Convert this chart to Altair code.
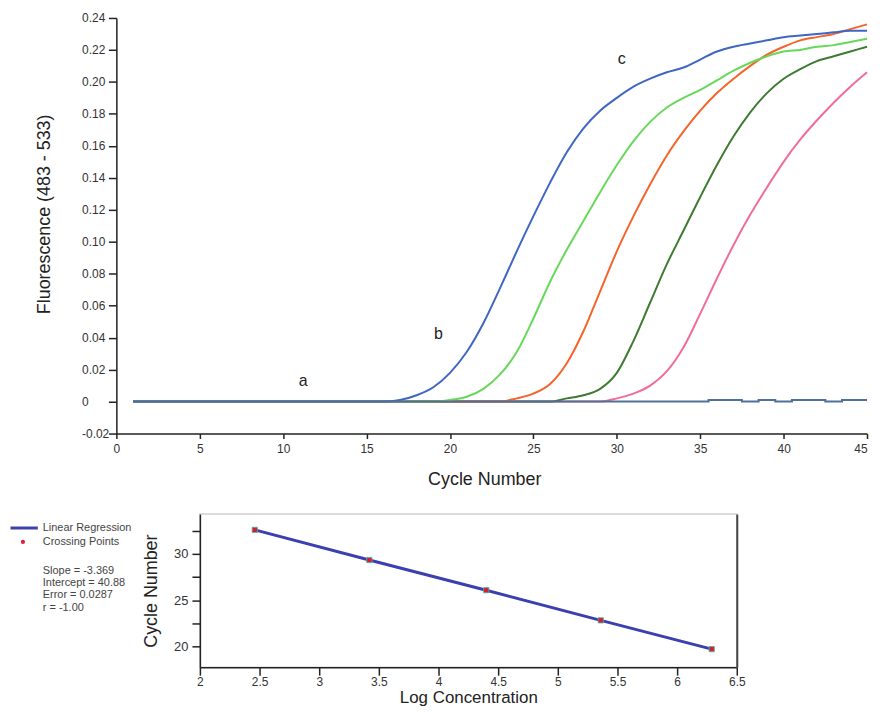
import altair as alt
import pandas as pd

# ---------------- data ----------------
cycles = list(range(1, 46))

blue = [0.0] * 16 + [0.001, 0.004, 0.009, 0.018, 0.031, 0.049, 0.071, 0.094, 0.116,
                     0.137, 0.156, 0.171, 0.182, 0.190, 0.197, 0.202, 0.206, 0.209,
                     0.214, 0.219, 0.222, 0.224, 0.226, 0.228, 0.229, 0.230, 0.231,
                     0.232, 0.232]
green = [0.0] * 19 + [0.001, 0.003, 0.008, 0.017, 0.031, 0.052, 0.075, 0.095, 0.113,
                      0.131, 0.148, 0.163, 0.175, 0.184, 0.190, 0.195, 0.201, 0.207,
                      0.212, 0.216, 0.219, 0.220, 0.222, 0.223, 0.225, 0.227]
orange = [0.0] * 23 + [0.002, 0.005, 0.011, 0.024, 0.044, 0.069, 0.094, 0.116, 0.136,
                       0.154, 0.169, 0.182, 0.193, 0.202, 0.210, 0.217, 0.222, 0.226,
                       0.228, 0.230, 0.233, 0.236]
dkgreen = [0.0] * 26 + [0.002, 0.004, 0.008, 0.018, 0.038, 0.062, 0.086, 0.107, 0.128,
                        0.148, 0.166, 0.181, 0.193, 0.202, 0.208, 0.213, 0.216, 0.219,
                        0.222]
pink = [0.0] * 29 + [0.002, 0.005, 0.010, 0.019, 0.034, 0.055, 0.077, 0.098, 0.117,
                     0.134, 0.150, 0.164, 0.176, 0.187, 0.197, 0.206]
negctrl = [0.0] * 35 + [0.001, 0.001, 0.0, 0.001, 0.0, 0.001, 0.001, 0.0, 0.001, 0.001]

series_names = ["pink", "dkgreen", "orange", "green", "blue"]
series_values = [pink, dkgreen, orange, green, blue]
series_colors = ["#f06e96", "#3e7a32", "#f5642a", "#66d95a", "#4066c4"]
neg_color = "#50709a"

ann_letters = ["a", "b", "c"]
ann_cycle = [11.2, 19.3, 30.3]
ann_value = [0.013, 0.042, 0.214]

log_conc = [2.46, 3.42, 4.40, 5.36, 6.29]
crossing = [32.6, 29.35, 26.1, 22.85, 19.75]

y_ticks_top = [-0.02, 0.0, 0.02, 0.04, 0.06, 0.08, 0.10, 0.12, 0.14, 0.16, 0.18, 0.20, 0.22, 0.24]
x_ticks_top = [0, 5, 10, 15, 20, 25, 30, 35, 40, 45]
x_ticks_reg = [2, 2.5, 3, 3.5, 4, 4.5, 5, 5.5, 6, 6.5]
y_ticks_reg = [20, 22.5, 25, 27.5, 30, 32.5]

legend_texts = ["Linear Regression", "Crossing Points"]
stats_texts = ["Slope = -3.369", "Intercept = 40.88", "Error = 0.0287", "r = -1.00"]

# ---------------- tables ----------------
rows = []
for name, vals in zip(series_names, series_values):
    for c, v in zip(cycles, vals):
        rows.append({"series": name, "cycle": c, "value": v})
df_curves = pd.DataFrame(rows)
df_neg = pd.DataFrame({"cycle": cycles, "value": negctrl})
df_ann = pd.DataFrame({"t": ann_letters, "cycle": ann_cycle, "value": ann_value})
df_reg = pd.DataFrame({"logc": log_conc, "cp": crossing})
one = pd.DataFrame({"k": [0]})

FONT = "Liberation Sans, Arial, sans-serif"
DARK = "#222222"

# ---------------- top chart ----------------
xs_top = alt.Scale(domain=[0, 45], nice=False, zero=False)
ys_top = alt.Scale(domain=[-0.02, 0.24], nice=False, zero=False)

x_axis_top = alt.Axis(values=x_ticks_top, title="Cycle Number", labelFlush=False,
                      labelAlign={"expr": "datum.value == 45 ? 'right' : 'center'"},
                      tickSize=5, labelPadding=5, titleX=370, titleY=51,
                      titleBaseline="alphabetic", titleFontSize=18, labelOverlap=False)
y_axis_top = alt.Axis(values=y_ticks_top,
                      labelExpr="datum.value == 0 ? '0' : (datum.value < 0 ? '-' + format(-datum.value, '.2f') : format(datum.value, '.2f'))",
                      labelAlign="left", labelPadding=27, tickSize=8, labelOverlap=False,
                      title="Fluorescence (483 - 533)", titleX=-67, titleY=197,
                      titleBaseline="alphabetic", titleFontSize=18)

curves = alt.Chart(df_curves).mark_line(strokeWidth=2, interpolate="monotone").encode(
    x=alt.X("cycle:Q", scale=xs_top, axis=x_axis_top),
    y=alt.Y("value:Q", scale=ys_top, axis=y_axis_top),
    color=alt.Color("series:N", scale=alt.Scale(domain=series_names, range=series_colors), legend=None),
)
neg = alt.Chart(df_neg).mark_line(strokeWidth=2, color=neg_color, interpolate="step").encode(
    x=alt.X("cycle:Q", scale=xs_top, axis=x_axis_top),
    y=alt.Y("value:Q", scale=ys_top, axis=y_axis_top),
)
ann = alt.Chart(df_ann).mark_text(font=FONT, fontSize=16, color=DARK).encode(
    x=alt.X("cycle:Q", scale=xs_top, axis=x_axis_top),
    y=alt.Y("value:Q", scale=ys_top, axis=y_axis_top),
    text="t:N",
)
top = alt.layer(curves, neg, ann).properties(
    width=755, height=418, view=alt.ViewBackground(stroke="transparent")
)

# ---------------- legend / stats ----------------
leg_parts = [
    alt.Chart(one).mark_rule(color="#3b3fb0", strokeWidth=3).encode(
        x=alt.value(-106.5), x2=alt.value(-79), y=alt.value(14)),
    alt.Chart(one).mark_point(filled=True, shape="circle", size=18, color="#e02030", opacity=1).encode(
        x=alt.value(-94), y=alt.value(28)),
]
for i, t in enumerate(legend_texts):
    leg_parts.append(alt.Chart(one).mark_text(font=FONT, fontSize=11, color="#444", align="left",
                                              baseline="middle").encode(
        x=alt.value(-74), y=alt.value(14 + 14 * i), text=alt.value(t)))
for i, t in enumerate(stats_texts):
    leg_parts.append(alt.Chart(one).mark_text(font=FONT, fontSize=11, color="#444", align="left",
                                              baseline="middle").encode(
        x=alt.value(-74), y=alt.value(57 + 12.4 * i), text=alt.value(t)))
legend = alt.layer(*leg_parts).properties(
    width=20, height=100, view=alt.ViewBackground(stroke="transparent")
)

# ---------------- regression chart ----------------
xs_reg = alt.Scale(domain=[2, 6.5], nice=False, zero=False)
ys_reg = alt.Scale(domain=[17.8, 34.3], nice=False, zero=False)

reg_line = alt.Chart(df_reg).mark_line(color="#3b3fb0", strokeWidth=3).encode(
    x=alt.X("logc:Q", scale=xs_reg,
            axis=alt.Axis(values=x_ticks_reg, labelFlush=False,
                          labelExpr="datum.value + ''", tickSize=8, labelPadding=1,
                          labelFontSize=12, title="Log Concentration", titleFontSize=17,
                          titleY=36, titleBaseline="alphabetic", labelOverlap=False)),
    y=alt.Y("cp:Q", scale=ys_reg,
            axis=alt.Axis(values=y_ticks_reg,
                          labelExpr="datum.value % 5 == 0 ? datum.value + '' : ''",
                          tickSize=8, labelPadding=4, labelFontSize=13, labelOverlap=False,
                          title="Cycle Number", titleFontSize=18, titleX=-44,
                          titleBaseline="alphabetic")),
)
reg_pts = alt.Chart(df_reg).mark_point(shape="square", filled=True, size=28, color="#d8202c",
                                       stroke="#40b8b8", strokeWidth=0.8, opacity=1).encode(
    x=alt.X("logc:Q", scale=xs_reg),
    y=alt.Y("cp:Q", scale=ys_reg,
            axis=alt.Axis(orient="right", labels=False, ticks=False, title=None,
                          domainColor="#444", domainWidth=2)),
)
reg = alt.layer(reg_line, reg_pts).resolve_axis(y="independent").properties(
    width=540, height=154, view=alt.ViewBackground(stroke="#d0d0d0", strokeWidth=1.5)
)

bottom = alt.hconcat(legend, reg, spacing=4)

chart = alt.vconcat(top, bottom, spacing=24).properties(
    padding={"left": 0, "top": 1, "right": 0, "bottom": -2},
    background="white",
).configure_axis(
    labelFont=FONT, labelFontSize=12, labelColor="#333", labelOverlap=False,
    titleFont=FONT, titleFontWeight="normal", titleColor=DARK,
    domainColor=DARK, domainWidth=1.5, tickColor=DARK, tickWidth=1.5, grid=False,
).configure_view(stroke="transparent")

chart.save("out.html", embed_options={"renderer": "svg", "actions": False})
